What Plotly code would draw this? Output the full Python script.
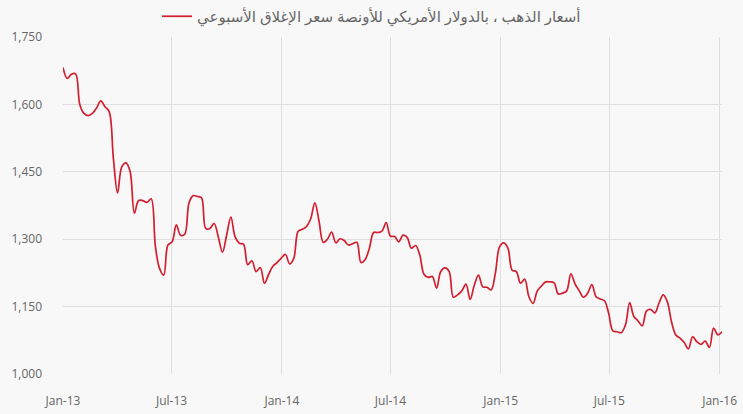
import pandas as pd
import plotly.graph_objects as go

series_name = "أسعار الذهب ، بالدولار الأمريكي للأونصة سعر الإغلاق الأسبوعي"

prices = [
    1682, 1658, 1667, 1668, 1600, 1580, 1575, 1580, 1592, 1608,
    1595, 1584, 1480, 1403, 1461, 1470, 1450, 1358, 1386, 1386,
    1382, 1390, 1285, 1235, 1220, 1287, 1294, 1332, 1309, 1311,
    1380, 1397, 1395, 1392, 1324, 1324, 1335, 1305, 1271, 1310,
    1349, 1305, 1291, 1289, 1243, 1252, 1228, 1237, 1202, 1222,
    1240, 1248, 1258, 1266, 1245, 1258, 1317, 1322, 1328, 1345,
    1381, 1340, 1293, 1300, 1316, 1292, 1301, 1297, 1287, 1290,
    1293, 1248, 1255, 1280, 1315, 1315, 1318, 1337, 1307, 1306,
    1294, 1309, 1304, 1280, 1286, 1265, 1222, 1215, 1217, 1191,
    1228, 1236, 1228, 1171, 1176, 1185, 1200, 1166, 1198, 1220,
    1194, 1193, 1187, 1224, 1283, 1292, 1280, 1231, 1228, 1202,
    1211, 1172, 1157, 1185, 1196, 1205, 1205, 1203, 1178, 1180,
    1185, 1223, 1200, 1185, 1171, 1180, 1199, 1172, 1167, 1163,
    1135, 1096, 1094, 1092, 1109, 1159, 1128, 1118, 1107, 1140,
    1144, 1136, 1158, 1176, 1160, 1115, 1087, 1080, 1070, 1056,
    1083, 1072, 1066, 1073, 1059, 1102, 1087, 1094,
]

dates = pd.date_range("2013-01-01", periods=len(prices), freq="7D")

tick_vals = ["2013-01-01", "2013-07-01", "2014-01-01", "2014-07-01",
             "2015-01-01", "2015-07-01", "2016-01-01"]
tick_text = ["Jan-13", "Jul-13", "Jan-14", "Jul-14", "Jan-15", "Jul-15", "Jan-16"]
y_ticks = [1000, 1150, 1300, 1450, 1600, 1750]
y_text = ["1,000", "1,150", "1,300", "1,450", "1,600", "1,750"]

fig = go.Figure()
fig.add_trace(go.Scatter(
    x=dates, y=prices, mode="lines", name=series_name,
    line=dict(color="#d21f2f", width=1.7, shape="spline", smoothing=1.0),
    showlegend=True,
))

grid = "#dedede"
fig.update_layout(
    width=743, height=414,
    paper_bgcolor="#f8f8f8", plot_bgcolor="#f8f8f8",
    margin=dict(l=63, r=21, t=37, b=40, autoexpand=False),
    font=dict(family="Open Sans, DejaVu Sans, sans-serif", size=12, color="#666666"),
    showlegend=True,
    legend=dict(orientation="h", x=0.5, xanchor="center", xref="container",
                y=1.0, yanchor="top", yref="container",
                font=dict(size=15, color="#666666"), itemwidth=30,
                bgcolor="rgba(0,0,0,0)"),
    xaxis=dict(range=[dates[0], dates[-1]], tickmode="array", tickvals=tick_vals,
               ticktext=tick_text, showgrid=True, gridcolor=grid, gridwidth=1,
               zeroline=False, showline=False, ticks="", ticklabelstandoff=18),
    yaxis=dict(range=[1000, 1750], tickmode="array", tickvals=y_ticks, ticktext=y_text,
               showgrid=True, gridcolor=grid, gridwidth=1, zeroline=False,
               showline=False, ticks="", ticklabelstandoff=20),
)

fig.write_html(
    "out.html",
    config={"displayModeBar": False},
    post_script="document.body.style.margin='0';document.body.style.background='#f8f8f8';",
)
